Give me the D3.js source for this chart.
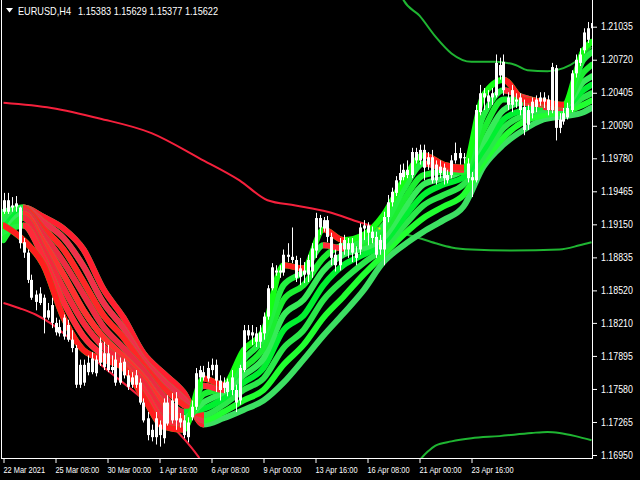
<!DOCTYPE html>
<html><head><meta charset="utf-8">
<script src="https://cdn.jsdelivr.net/npm/d3@7"></script>
<style>html,body{margin:0;padding:0;background:#000;overflow:hidden}</style>
</head><body>
<svg id="c" width="640" height="480"></svg>
<script>
const titleSymbol = "EURUSD,H4";
const titleQuotes = "1.15383 1.15629 1.15377 1.15622";
const yTicks = [1.21035,1.20720,1.20405,1.20090,1.19780,1.19465,1.19150,1.18835,1.18520,1.18210,1.17895,1.17580,1.17265,1.16950];
const xTickBars = [0,13,26,39,52,65,78,91,104,117];
const xTickLabels = ["22 Mar 2021","25 Mar 08:00","30 Mar 00:00","1 Apr 16:00","6 Apr 08:00","9 Apr 00:00","13 Apr 16:00","16 Apr 08:00","21 Apr 00:00","23 Apr 16:00"];

const open = [1.1927,1.1938,1.1931,1.1932,1.1931,1.1898,1.1888,1.1862,1.1841,1.1849,1.1845,1.1826,1.1838,1.1821,1.1811,1.1808,1.1819,1.1805,1.1797,1.1762,1.1781,1.1774,1.1774,1.1786,1.1783,1.1792,1.1776,1.1779,1.1786,1.1764,1.1784,1.1771,1.1762,1.1771,1.1764,1.1745,1.1730,1.1712,1.1712,1.1724,1.1711,1.1745,1.1728,1.1749,1.1730,1.1728,1.1712,1.1731,1.1741,1.1769,1.1774,1.1768,1.1776,1.1781,1.1766,1.1759,1.1765,1.1757,1.1757,1.1747,1.1776,1.1814,1.1809,1.1811,1.1803,1.1811,1.1827,1.1854,1.1871,1.1869,1.1869,1.1886,1.1884,1.1881,1.1865,1.1871,1.1867,1.1870,1.1890,1.1921,1.1911,1.1919,1.1903,1.1876,1.1876,1.1900,1.1891,1.1897,1.1888,1.1891,1.1914,1.1914,1.1908,1.1903,1.1891,1.1891,1.1922,1.1936,1.1945,1.1957,1.1960,1.1967,1.1962,1.1984,1.1976,1.1986,1.1972,1.1979,1.1957,1.1970,1.1969,1.1962,1.1962,1.1976,1.1983,1.1978,1.1973,1.1960,1.1957,1.2022,1.2040,1.2038,1.2036,1.2038,1.2067,1.2070,1.2036,1.2029,1.2034,1.2036,1.2027,1.2010,1.2021,1.2027,1.2032,1.2036,1.2034,1.2024,1.2064,1.2007,1.2013,1.2017,1.2024,1.2059,1.2069,1.2081,1.2091,1.2102];
const high = [1.1945,1.1945,1.1941,1.1942,1.1932,1.1902,1.1891,1.1867,1.1852,1.1855,1.1848,1.1840,1.1845,1.1826,1.1824,1.1829,1.1824,1.1814,1.1800,1.1786,1.1786,1.1790,1.1793,1.1790,1.1807,1.1803,1.1800,1.1790,1.1793,1.1788,1.1787,1.1776,1.1774,1.1776,1.1768,1.1749,1.1736,1.1724,1.1736,1.1728,1.1749,1.1752,1.1754,1.1755,1.1735,1.1733,1.1731,1.1747,1.1778,1.1780,1.1780,1.1784,1.1787,1.1786,1.1771,1.1769,1.1768,1.1776,1.1762,1.1781,1.1819,1.1819,1.1819,1.1817,1.1819,1.1831,1.1857,1.1878,1.1876,1.1876,1.1891,1.1897,1.1912,1.1885,1.1883,1.1879,1.1886,1.1897,1.1926,1.1924,1.1922,1.1923,1.1907,1.1891,1.1902,1.1905,1.1902,1.1902,1.1894,1.1916,1.1919,1.1917,1.1913,1.1908,1.1905,1.1927,1.1943,1.1950,1.1961,1.1972,1.1973,1.1976,1.1988,1.1988,1.1991,1.1991,1.1984,1.1986,1.1976,1.1976,1.1973,1.1967,1.1981,1.1993,1.1988,1.1983,1.1978,1.1965,1.2029,1.2048,1.2045,1.2043,1.2045,1.2077,1.2074,1.2077,1.2041,1.2048,1.2040,1.2040,1.2034,1.2029,1.2036,1.2038,1.2041,1.2041,1.2038,1.2069,1.2067,1.2021,1.2026,1.2031,1.2062,1.2077,1.2083,1.2102,1.2108,1.2117];
const low = [1.1925,1.1925,1.1927,1.1927,1.1892,1.1883,1.1859,1.1843,1.1833,1.1838,1.1811,1.1824,1.1816,1.1809,1.1808,1.1805,1.1803,1.1793,1.1759,1.1759,1.1761,1.1771,1.1772,1.1770,1.1780,1.1776,1.1774,1.1773,1.1761,1.1762,1.1768,1.1757,1.1759,1.1759,1.1743,1.1726,1.1709,1.1708,1.1705,1.1703,1.1706,1.1723,1.1725,1.1719,1.1721,1.1711,1.1707,1.1728,1.1738,1.1765,1.1766,1.1765,1.1771,1.1755,1.1747,1.1754,1.1751,1.1752,1.1736,1.1743,1.1774,1.1805,1.1800,1.1798,1.1797,1.1805,1.1824,1.1852,1.1866,1.1864,1.1866,1.1879,1.1878,1.1860,1.1857,1.1859,1.1860,1.1864,1.1883,1.1905,1.1908,1.1898,1.1876,1.1870,1.1871,1.1886,1.1883,1.1879,1.1876,1.1886,1.1900,1.1895,1.1897,1.1883,1.1886,1.1876,1.1917,1.1932,1.1942,1.1953,1.1957,1.1959,1.1959,1.1973,1.1972,1.1957,1.1967,1.1954,1.1953,1.1959,1.1953,1.1954,1.1959,1.1973,1.1972,1.1973,1.1955,1.1941,1.1955,1.2019,1.2024,1.2026,1.2029,1.2036,1.2053,1.2038,1.2024,1.2022,1.2026,1.2019,1.2000,1.2005,1.2016,1.2022,1.2028,1.2026,1.2019,1.2021,1.1995,1.2002,1.2010,1.2015,1.2022,1.2055,1.2066,1.2078,1.2088,1.2100];
const close = [1.1938,1.1927,1.1933,1.1935,1.1897,1.1888,1.1862,1.1845,1.1848,1.1840,1.1826,1.1833,1.1821,1.1812,1.1817,1.1826,1.1805,1.1797,1.1762,1.1781,1.1764,1.1783,1.1787,1.1773,1.1802,1.1779,1.1792,1.1776,1.1764,1.1783,1.1771,1.1760,1.1769,1.1762,1.1745,1.1728,1.1714,1.1719,1.1730,1.1714,1.1745,1.1725,1.1747,1.1728,1.1726,1.1714,1.1726,1.1741,1.1773,1.1776,1.1769,1.1778,1.1781,1.1766,1.1757,1.1764,1.1755,1.1769,1.1745,1.1778,1.1814,1.1809,1.1812,1.1803,1.1812,1.1827,1.1854,1.1874,1.1869,1.1871,1.1886,1.1884,1.1881,1.1864,1.1873,1.1867,1.1881,1.1892,1.1921,1.1912,1.1919,1.1903,1.1883,1.1886,1.1897,1.1891,1.1897,1.1888,1.1883,1.1912,1.1911,1.1907,1.1902,1.1886,1.1900,1.1922,1.1936,1.1946,1.1957,1.1964,1.1967,1.1962,1.1984,1.1976,1.1986,1.1969,1.1979,1.1957,1.1972,1.1964,1.1959,1.1957,1.1976,1.1983,1.1978,1.1979,1.1959,1.1957,1.2024,1.2040,1.2036,1.2032,1.2040,1.2069,1.2057,1.2043,1.2029,1.2043,1.2032,1.2024,1.2005,1.2024,1.2032,1.2034,1.2036,1.2032,1.2024,1.2065,1.2007,1.2015,1.2021,1.2026,1.2059,1.2072,1.2077,1.2098,1.2102,1.2107];

const ribbonBars = [0,5,10,15,20,25,30,35,40,45,50,55,60,65,70,75,80,85,90,95,100,105,110,115,120,125,130,135,140,145,147];
const ribbon1 = [1.1914,1.1900,1.1876,1.1826,1.1795,1.1786,1.1778,1.1750,1.1722,1.1719,1.1768,1.1762,1.1795,1.1814,1.1876,1.1873,1.1910,1.1900,1.1905,1.1924,1.1957,1.1981,1.1972,1.1969,1.2038,1.2053,1.2034,1.2032,1.2029,1.2081,1.2089];
const ribbon2 = [1.1908,1.1914,1.1883,1.1841,1.1808,1.1790,1.1781,1.1757,1.1728,1.1721,1.1761,1.1757,1.1786,1.1807,1.1857,1.1870,1.1895,1.1892,1.1900,1.1914,1.1948,1.1973,1.1969,1.1967,1.2019,1.2043,1.2036,1.2031,1.2028,1.2072,1.2079];
const ribbon3 = [1.1900,1.1921,1.1891,1.1854,1.1821,1.1798,1.1784,1.1764,1.1736,1.1725,1.1753,1.1759,1.1778,1.1797,1.1843,1.1857,1.1883,1.1895,1.1897,1.1908,1.1938,1.1962,1.1965,1.1965,1.2005,1.2034,1.2034,1.2030,1.2028,1.2060,1.2067];
const ribbon4 = [1.1904,1.1925,1.1898,1.1867,1.1833,1.1807,1.1789,1.1769,1.1744,1.1730,1.1745,1.1755,1.1771,1.1787,1.1828,1.1843,1.1871,1.1886,1.1892,1.1902,1.1929,1.1953,1.1959,1.1967,1.1994,1.2024,1.2031,1.2029,1.2027,1.2051,1.2056];
const ribbon5 = [1.1911,1.1928,1.1905,1.1879,1.1848,1.1817,1.1797,1.1776,1.1751,1.1736,1.1739,1.1749,1.1764,1.1778,1.1814,1.1828,1.1857,1.1876,1.1886,1.1897,1.1921,1.1943,1.1953,1.1960,1.1986,1.2015,1.2024,1.2027,1.2026,1.2043,1.2048];
const ribbon6 = [1.1919,1.1930,1.1911,1.1891,1.1860,1.1828,1.1807,1.1781,1.1759,1.1743,1.1733,1.1743,1.1757,1.1768,1.1797,1.1814,1.1843,1.1862,1.1878,1.1892,1.1913,1.1933,1.1943,1.1953,1.1979,1.2007,1.2019,1.2024,1.2025,1.2036,1.2040];
const ribbon7 = [1.1924,1.1931,1.1917,1.1902,1.1875,1.1840,1.1816,1.1786,1.1766,1.1749,1.1728,1.1736,1.1747,1.1757,1.1781,1.1800,1.1826,1.1846,1.1867,1.1886,1.1905,1.1921,1.1932,1.1943,1.1974,1.1998,1.2013,1.2019,1.2022,1.2029,1.2033];
const ribbon8 = [1.1927,1.1931,1.1922,1.1911,1.1891,1.1853,1.1826,1.1792,1.1773,1.1755,1.1724,1.1730,1.1738,1.1747,1.1764,1.1786,1.1809,1.1830,1.1852,1.1879,1.1895,1.1908,1.1919,1.1932,1.1970,1.1991,1.2005,1.2015,1.2018,1.2022,1.2026];

const midBars   = [0,12,24,37,49,59,66,73,81,89,94,98,103,108,112,117,127,139,144,147];
const midValues = [1.2031,1.2026,1.2016,1.2002,1.1978,1.1957,1.1938,1.1933,1.1927,1.1917,1.1911,1.1908,1.1903,1.1897,1.1893,1.1891,1.1890,1.1891,1.1895,1.1898];
const midFlipBar = 94;
const upperBandBars   = [99,100,104,108,112,117,123,128,131,136,140,143,145,147];
const upperBandValues = [1.2137,1.2129,1.2114,1.2094,1.2078,1.2070,1.2070,1.2067,1.2062,1.2061,1.2064,1.2070,1.2077,1.2084];
const lowerRedBars   = [0,4,8,12,16,25,34,39,47,49];
const lowerRedValues = [1.1840,1.1835,1.1829,1.1820,1.1808,1.1779,1.1751,1.1734,1.1702,1.1692];
const lowerGreenBars   = [104,106,108,112,117,124,132,136,139,143,147];
const lowerGreenValues = [1.1690,1.1698,1.1704,1.1708,1.1711,1.1713,1.1716,1.1717,1.1716,1.1713,1.1709];

const FONT = "'Liberation Sans', Arial, sans-serif";
const svg = d3.select('#c');
svg.append('rect').attr('width',640).attr('height',480).attr('fill','#000');
const x = d3.scaleLinear().domain([0,147]).range([3.5,591.5]);
const y = d3.scaleLinear().domain([1.16950,1.21035]).range([455,26.7]);
const defs = svg.append('defs');
defs.append('clipPath').attr('id','plot').append('rect').attr('x',2).attr('y',0).attr('width',590).attr('height',458);
const plot = svg.append('g').attr('clip-path','url(#plot)');

const curve = d3.curveMonotoneX;
function bandLine(bars, vals, color, w){
  const ln = d3.line().x((d,i)=>x(bars[i])).y(d=>y(d)).curve(curve);
  plot.append('path').attr('d', ln(vals)).attr('fill','none').attr('stroke',color).attr('stroke-width',w).attr('stroke-linejoin','round');
}
const flipIdx = midBars.indexOf(midFlipBar);
bandLine(midBars.slice(0,flipIdx+1), midValues.slice(0,flipIdx+1), '#f5203c', 2);
bandLine(midBars.slice(flipIdx), midValues.slice(flipIdx), '#1fb532', 2);
bandLine(upperBandBars, upperBandValues, '#1fb532', 2);
bandLine(lowerRedBars, lowerRedValues, '#f5203c', 2);
bandLine(lowerGreenBars, lowerGreenValues, '#1fb532', 2);

const ribbons = [ribbon1,ribbon2,ribbon3,ribbon4,ribbon5,ribbon6,ribbon7,ribbon8];
const reds = ['#ff1e1e','#ff2a3a','#f5283c','#ff3030','#ee2a42','#ff2626','#f0304a','#ff1f30'];
const greens = ['#14ff14','#22f040','#1aee30','#36ec58','#00f030','#2ae84a','#20ff30','#3ce062'];
const rl = d3.line().x((d,i)=>x(ribbonBars[i])).y(d=>y(d)).curve(curve);
ribbons.slice().reverse().forEach((vals, kk) => {
  const k = ribbons.length-1-kk;
  const cp = defs.append('clipPath').attr('id','fall'+k);
  for (let j=0;j<vals.length-1;j++){
    if (vals[j+1] < vals[j]) {
      cp.append('rect').attr('x', x(ribbonBars[j])-0.5).attr('y',0)
        .attr('width', x(ribbonBars[j+1]) - x(ribbonBars[j]) + 1).attr('height',480);
    }
  }
  plot.append('path').attr('d', rl(vals)).attr('fill','none').attr('stroke',greens[k])
    .attr('stroke-width',6).attr('stroke-linecap','round').attr('stroke-linejoin','round');
  plot.append('path').attr('d', rl(vals)).attr('fill','none').attr('stroke',reds[k])
    .attr('stroke-width',6).attr('stroke-linecap','round').attr('stroke-linejoin','round')
    .attr('clip-path','url(#fall'+k+')');
});

plot.append('rect').attr('x', x(midFlipBar)-1).attr('y', y(midValues[flipIdx])-1).attr('width',2).attr('height',2).attr('fill','#ffee00');

const cg = plot.append('g');
close.forEach((c,i) => {
  const cx = Math.round(x(i));
  cg.append('rect').attr('x', cx).attr('y', y(high[i])).attr('width',1)
    .attr('height', Math.max(1, y(low[i]) - y(high[i]))).attr('fill','#fff');
  const top = y(Math.max(open[i], c)), bot = y(Math.min(open[i], c));
  cg.append('rect').attr('x', cx-1).attr('y', top).attr('width',3)
    .attr('height', Math.max(1, bot-top)).attr('fill','#fff');
});

svg.append('line').attr('x1',1.5).attr('x2',1.5).attr('y1',0).attr('y2',459).attr('stroke','#fff');
svg.append('line').attr('x1',592.5).attr('x2',592.5).attr('y1',0).attr('y2',459).attr('stroke','#fff');
svg.append('line').attr('x1',1).attr('x2',593).attr('y1',458.5).attr('y2',458.5).attr('stroke','#fff');

function squeeze(sel, ratio){
  sel.each(function(){
    const L = this.getComputedTextLength();
    d3.select(this).attr('textLength', L*ratio).attr('lengthAdjust','spacingAndGlyphs');
  });
}

const ya = svg.append('g').attr('transform','translate(593,0)')
  .call(d3.axisRight(y).tickValues(yTicks).tickFormat(d3.format('.5f')).tickSize(4).tickPadding(4));
ya.select('.domain').remove();
ya.selectAll('line').attr('stroke','#fff');
ya.selectAll('text').attr('fill','#fff').style('font-family',FONT).style('font-size','10px');
squeeze(ya.selectAll('text'), 0.88);

const xa = svg.append('g').attr('transform','translate(0,459)')
  .call(d3.axisBottom(x).tickValues(xTickBars).tickFormat((d,i)=>xTickLabels[i]).tickSize(4).tickPadding(3));
xa.select('.domain').remove();
xa.selectAll('line').attr('stroke','#fff');
xa.selectAll('text').attr('fill','#fff').attr('text-anchor','start').attr('x',-0.5)
  .style('font-family',FONT).style('font-size','9.5px');
squeeze(xa.selectAll('text'), 0.78);

svg.append('path').attr('d','M6,8 L13,8 L9.5,12.5 Z').attr('fill','#fff');
const t1 = svg.append('text').attr('x',18).attr('y',15).attr('fill','#fff')
  .style('font-family',FONT).style('font-size','10.5px').text(titleSymbol);
const t2 = svg.append('text').attr('x',78).attr('y',15).attr('fill','#fff')
  .style('font-family',FONT).style('font-size','10.5px').text(titleQuotes);
t1.attr('textLength',53).attr('lengthAdjust','spacingAndGlyphs');
t2.attr('textLength',140).attr('lengthAdjust','spacingAndGlyphs');
</script>
</body></html>
